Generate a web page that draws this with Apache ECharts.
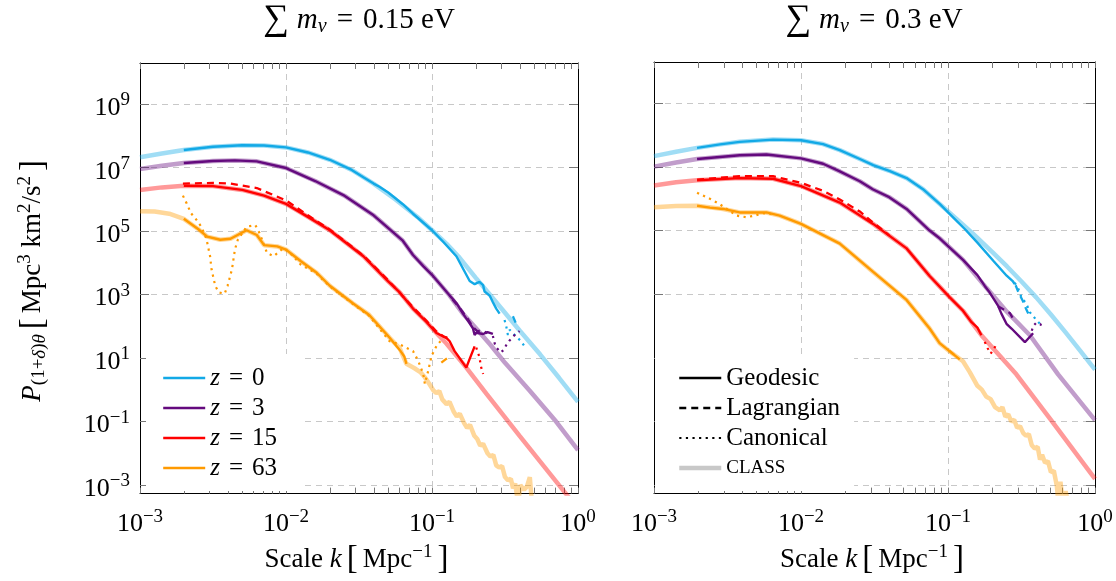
<!DOCTYPE html>
<html>
<head>
<meta charset="utf-8">
<script src="https://cdn.jsdelivr.net/npm/echarts@6/dist/echarts.min.js"></script>
<style>
  html, body { margin: 0; padding: 0; background: #fff; }
  #chart { width: 1116px; height: 581px; }
</style>
</head>
<body>
<div id="chart"></div>
<script>
// all values are log10: [log10 k, log10 P]
// ---- panel A : sum m_nu = 0.15 eV ----
const classA_z0 = [[-3,7.33],[-2.85,7.45],[-2.7,7.56],[-2.5,7.66],[-2.3,7.71],[-2.15,7.70],[-2.0,7.64],[-1.85,7.48],[-1.7,7.25],[-1.55,6.93],[-1.4,6.50],[-1.25,6.00],[-1.1,5.45],[-1.0,5.03],[-0.9,4.60],[-0.82,4.21],[-0.7,3.53],[-0.6,2.98],[-0.5,2.43],[-0.4,1.87],[-0.26,1.12],[-0.13,0.38],[0,-0.38]];
const geoA_z0 = [[-2.7,7.56],[-2.5,7.66],[-2.3,7.71],[-2.15,7.70],[-2.0,7.64],[-1.85,7.48],[-1.7,7.25],[-1.55,6.93],[-1.47,6.70],[-1.4,6.50],[-1.36,6.40],[-1.3,6.22],[-1.2,5.85],[-1.13,5.55],[-1.0,5.03],[-0.92,4.65],[-0.833,4.21],[-0.742,3.43],[-0.708,3.33],[-0.675,3.40],[-0.65,3.30],[-0.64,3.10],[-0.605,2.97],[-0.583,2.76],[-0.56,2.56],[-0.537,2.40]];
const lagA_z0 = [[-0.446,2.32],[-0.423,2.07]];
const canA_z0 = [[-0.503,2.20],[-0.491,1.99],[-0.48,1.73],[-0.468,1.89],[-0.423,1.68],[-0.389,1.53],[-0.366,1.37]];

const classA_z3 = [[-3,6.96],[-2.85,7.06],[-2.7,7.15],[-2.5,7.21],[-2.35,7.23],[-2.2,7.20],[-2.0,6.99],[-1.8,6.58],[-1.6,6.12],[-1.4,5.50],[-1.2,4.70],[-1.13,4.25],[-0.993,3.59],[-0.879,2.97],[-0.788,2.40],[-0.7,1.95],[-0.6,1.42],[-0.5,0.85],[-0.332,-0.02],[-0.15,-1.0],[0,-1.9]];
const geoA_z3 = [[-2.7,7.15],[-2.5,7.21],[-2.35,7.23],[-2.2,7.20],[-2.0,6.99],[-1.8,6.58],[-1.6,6.12],[-1.4,5.50],[-1.2,4.70],[-1.13,4.25],[-1.06,3.90],[-0.993,3.59],[-0.93,3.25],[-0.879,2.97],[-0.83,2.72],[-0.788,2.40],[-0.75,2.15],[-0.72,1.94],[-0.708,1.73],[-0.697,1.80],[-0.65,1.76],[-0.62,1.82],[-0.583,1.76]];
const lagA_z3 = [[-0.86,2.85],[-0.80,2.52],[-0.75,2.20],[-0.72,1.98],[-0.69,1.85],[-0.65,1.86],[-0.62,1.78]];
const canA_z3 = [[-0.583,1.70],[-0.57,1.45],[-0.555,1.31],[-0.53,1.18],[-0.51,1.25],[-0.49,1.42],[-0.47,1.55],[-0.44,1.70],[-0.40,1.85]];

const classA_z15 = [[-3,6.30],[-2.85,6.38],[-2.7,6.43],[-2.5,6.42],[-2.3,6.30],[-2.15,6.12],[-2.0,5.86],[-1.85,5.45],[-1.7,5.03],[-1.47,4.21],[-1.3,3.42],[-1.221,3.07],[-1.13,2.56],[-1.038,2.14],[-0.97,1.79],[-0.90,1.45],[-0.765,0.70],[-0.628,-0.12],[-0.4,-1.45],[-0.2,-2.6],[0,-3.75]];
const geoA_z15 = [[-2.7,6.43],[-2.5,6.42],[-2.3,6.30],[-2.15,6.12],[-2.0,5.86],[-1.85,5.45],[-1.7,5.03],[-1.47,4.21],[-1.3,3.42],[-1.221,3.07],[-1.13,2.56],[-1.038,2.14],[-0.97,1.79],[-0.90,1.63],[-0.879,1.53],[-0.845,1.22],[-0.765,0.70],[-0.74,1.00],[-0.708,1.37]];
const lagA_z15 = [[-2.706,6.50],[-2.5,6.52],[-2.38,6.50],[-2.2,6.36],[-2.0,5.97],[-1.85,5.50],[-1.7,5.05],[-1.47,4.23],[-1.3,3.45],[-1.13,2.60],[-1.04,2.18],[-0.97,1.84],[-0.92,1.68],[-0.88,1.62]];
const canA_z15 = [[-0.697,1.33],[-0.675,1.03],[-0.665,0.74],[-0.65,0.50]];

const classA_z63 = [[-3,5.63],[-2.9,5.62],[-2.8,5.55],[-2.7,5.39],[-2.6,5.06],[-2.54,4.83],[-2.45,4.73],[-2.38,4.76],[-2.27,5.03],[-2.2,4.88],[-2.15,4.56],[-2.06,4.52],[-2.0,4.42],[-1.9,4.06],[-1.79,3.69],[-1.7,3.28],[-1.54,2.72],[-1.43,2.36],[-1.29,1.64],[-1.22,1.30],[-1.175,0.82],[-1.12,0.68],[-1.08,0.56],[-1.05,0.40],[-1.02,0.20],[-0.99,-0.02],[-0.97,-0.10],[-0.95,-0.04],[-0.93,-0.30],[-0.90,-0.45],[-0.88,-0.38],[-0.85,-0.70],[-0.83,-0.84],[-0.81,-0.75],[-0.78,-1.05],[-0.76,-1.20],[-0.74,-1.10],[-0.71,-1.45],[-0.69,-1.55],[-0.67,-1.76],[-0.65,-1.70],[-0.62,-2.00],[-0.60,-2.10],[-0.58,-2.05],[-0.56,-2.38],[-0.54,-2.45],[-0.52,-2.40],[-0.50,-2.75],[-0.48,-2.85],[-0.46,-2.80],[-0.445,-3.10],[-0.43,-2.95],[-0.41,-3.60],[-0.395,-3.00],[-0.37,-3.15],[-0.35,-3.05],[-0.33,-2.75],[-0.315,-3.60],[-0.30,-3.50]];
const geoA_z63 = [[-2.7,5.39],[-2.6,5.06],[-2.54,4.83],[-2.45,4.73],[-2.38,4.76],[-2.27,5.03],[-2.2,4.88],[-2.15,4.56],[-2.06,4.52],[-2.0,4.42],[-1.9,4.06],[-1.79,3.69],[-1.7,3.28],[-1.54,2.72],[-1.43,2.36],[-1.29,1.64],[-1.22,1.25],[-1.19,1.05],[-1.175,0.82]];
const lagA_z63 = [[-0.936,0.86],[-0.879,1.06]];
const canA_z63 = [[-2.706,6.12],[-2.68,5.87],[-2.65,5.56],[-2.62,5.40],[-2.58,5.14],[-2.545,4.76],[-2.52,4.21],[-2.51,3.80],[-2.485,3.28],[-2.46,3.07],[-2.42,3.03],[-2.40,3.28],[-2.37,3.80],[-2.35,4.42],[-2.33,4.73],[-2.27,5.14],[-2.21,5.19],[-2.18,4.93],[-2.13,4.31],[-2.085,4.21],[-2.017,4.47],[-1.97,4.31],[-1.90,3.95],[-1.79,3.66],[-1.70,3.26],[-1.54,2.70],[-1.43,2.33],[-1.29,1.53],[-1.22,1.43],[-1.13,1.22],[-1.094,0.91],[-1.06,0.50],[-1.049,0.19],[-1.026,0.60],[-1.003,1.07],[-0.969,1.38],[-0.923,1.64]];

// ---- panel B : sum m_nu = 0.3 eV ----
const classB_z0 = [[-3,7.34],[-2.85,7.48],[-2.707,7.60],[-2.55,7.71],[-2.417,7.79],[-2.19,7.86],[-2.0,7.84],[-1.85,7.72],[-1.736,7.53],[-1.6,7.25],[-1.509,7.06],[-1.4,6.88],[-1.282,6.65],[-1.17,6.30],[-1.055,5.83],[-0.94,5.36],[-0.83,4.90],[-0.7,4.33],[-0.6,3.88],[-0.5,3.40],[-0.4,2.90],[-0.3,2.36],[-0.2,1.80],[-0.1,1.22],[0,0.63]];
const geoB_z0 = [[-2.707,7.60],[-2.55,7.71],[-2.417,7.79],[-2.19,7.86],[-2.0,7.84],[-1.85,7.72],[-1.736,7.53],[-1.6,7.25],[-1.509,7.06],[-1.4,6.88],[-1.282,6.65],[-1.17,6.30],[-1.055,5.83],[-0.94,5.30],[-0.886,5.05],[-0.8,4.62],[-0.692,4.05],[-0.601,3.58],[-0.558,3.40],[-0.546,3.32]];
const lagB_z0 = [[-0.54,3.28],[-0.52,3.05],[-0.49,2.78],[-0.47,2.55],[-0.45,2.35]];
const canB_z0 = [[-0.546,3.36],[-0.524,3.20],[-0.50,2.90],[-0.466,2.69],[-0.443,2.43],[-0.397,2.18],[-0.374,2.07],[-0.367,2.18]];

const classB_z3 = [[-3,7.01],[-2.85,7.14],[-2.707,7.25],[-2.417,7.37],[-2.235,7.39],[-2.0,7.27],[-1.85,7.10],[-1.736,6.86],[-1.6,6.55],[-1.509,6.29],[-1.4,6.05],[-1.282,5.68],[-1.125,5.0],[-1.055,4.75],[-0.898,4.08],[-0.739,3.20],[-0.6,2.45],[-0.443,1.71],[-0.251,0.48],[0,-0.96]];
const geoB_z3 = [[-2.707,7.25],[-2.417,7.37],[-2.235,7.39],[-2.0,7.27],[-1.85,7.10],[-1.736,6.86],[-1.6,6.55],[-1.509,6.29],[-1.4,6.05],[-1.282,5.68],[-1.125,5.0],[-1.055,4.75],[-0.898,4.08],[-0.80,3.60],[-0.75,3.26],[-0.716,3.05],[-0.66,2.64],[-0.636,2.38],[-0.602,2.07],[-0.568,1.92],[-0.477,1.49],[-0.421,1.77]];
const lagB_z3 = [[-0.66,2.62],[-0.58,2.41],[-0.546,2.14]];
const canB_z3 = [[-0.43,1.85],[-0.42,2.0],[-0.40,2.10],[-0.37,2.05],[-0.36,1.92]];

const classB_z15 = [[-3,6.42],[-2.85,6.52],[-2.707,6.58],[-2.417,6.65],[-2.19,6.63],[-2.0,6.40],[-1.736,5.88],[-1.509,5.21],[-1.282,4.44],[-1.125,3.57],[-0.988,2.90],[-0.898,2.48],[-0.84,2.12],[-0.773,1.71],[-0.535,0.48],[-0.3,-0.95],[0,-2.81]];
const geoB_z15 = [[-2.707,6.58],[-2.417,6.65],[-2.19,6.63],[-2.0,6.40],[-1.736,5.88],[-1.509,5.21],[-1.282,4.44],[-1.125,3.57],[-0.988,2.90],[-0.898,2.48],[-0.84,2.12],[-0.80,1.95],[-0.773,1.71]];
const lagB_z15 = [[-2.707,6.60],[-2.417,6.71],[-2.19,6.71],[-2.0,6.50],[-1.85,6.25],[-1.736,5.98],[-1.6,5.60],[-1.509,5.25],[-1.4,4.85]];
const canB_z15 = [[-0.75,1.50],[-0.73,1.30],[-0.71,1.13],[-0.70,1.19],[-0.665,1.45]];

const classB_z63 = [[-3,5.73],[-2.85,5.77],[-2.707,5.78],[-2.53,5.68],[-2.417,5.57],[-2.235,5.57],[-2.145,5.47],[-2.0,5.21],[-1.736,4.59],[-1.509,3.70],[-1.282,2.82],[-1.125,1.92],[-1.057,1.46],[-0.988,1.20],[-0.898,0.89],[-0.852,0.55],[-0.80,0.12],[-0.77,0.00],[-0.74,-0.22],[-0.71,-0.30],[-0.68,-0.55],[-0.647,-0.65],[-0.63,-0.55],[-0.61,-0.85],[-0.59,-0.78],[-0.57,-1.00],[-0.55,-0.95],[-0.53,-1.20],[-0.51,-1.15],[-0.488,-1.37],[-0.47,-1.45],[-0.45,-1.40],[-0.43,-1.75],[-0.41,-1.85],[-0.39,-1.80],[-0.374,-2.20],[-0.36,-2.05],[-0.34,-2.30],[-0.32,-2.25],[-0.30,-2.60],[-0.28,-2.55],[-0.26,-3.02],[-0.25,-3.50],[-0.235,-2.90],[-0.22,-3.50],[-0.20,-3.20],[-0.18,-3.60]];
const geoB_z63 = [[-2.707,5.78],[-2.62,5.72],[-2.53,5.68],[-2.417,5.57],[-2.235,5.57],[-2.145,5.47],[-2.0,5.21],[-1.736,4.59],[-1.509,3.70],[-1.282,2.82],[-1.125,1.92],[-1.057,1.46],[-0.988,1.20],[-0.92,0.95]];
const lagB_z63 = [[-0.99,1.22],[-0.96,1.10]];
const canB_z63 = [[-2.707,6.19],[-2.62,6.00],[-2.553,5.83],[-2.439,5.47],[-2.371,5.42],[-2.315,5.47],[-2.258,5.55],[-2.2,5.52]];

const zLabels = ['z = 0', 'z = 3', 'z = 15', 'z = 63'];
const methodLabels = ['Geodesic', 'Lagrangian', 'Canonical', 'CLASS'];
const xMajor = [-3, -2, -1, 0];
const yMajor = [-3, -1, 1, 3, 5, 7, 9];

const FONT = 'Liberation Serif';
const COLORS = ['#12A9E6', '#640A7E', '#FF0000', '#FF9A00'];
const Y_MIN = -3.27, Y_MAX = 10.30;

// log-spaced minor ticks 2..9 within every decade
const xTicks = [];
xMajor.forEach((d, i) => {
  xTicks.push(d);
  if (i < xMajor.length - 1) for (let m = 2; m <= 9; m++) xTicks.push(d + Math.log10(m));
});

const rich = {
  t: { fontFamily: FONT, fontSize: 25, color: '#000' },
  i: { fontFamily: FONT, fontSize: 25, fontStyle: 'italic', color: '#000' },
  e: { fontFamily: FONT, fontSize: 25, color: '#000', padding: [0, 9] },
  // axis names
  n: { fontFamily: FONT, fontSize: 27, color: '#000' },
  ni: { fontFamily: FONT, fontSize: 27, fontStyle: 'italic', color: '#000' },
  sub: { fontFamily: FONT, fontSize: 19, color: '#000', padding: [13, 0, 0, 0] },
  subi: { fontFamily: FONT, fontSize: 19, fontStyle: 'italic', color: '#000', padding: [13, 0, 0, 0] },
  sup: { fontFamily: FONT, fontSize: 19, color: '#000', padding: [0, 0, 15, 0] },
  br: { fontFamily: FONT, fontSize: 33, color: '#000', padding: [0, 5] },
  // titles
  sum: { fontFamily: FONT, fontSize: 36, color: '#000', padding: [0, 8, 0, 0] },
  tt: { fontFamily: FONT, fontSize: 29, color: '#000' },
  it: { fontFamily: FONT, fontSize: 29, fontStyle: 'italic', color: '#000' },
  et: { fontFamily: FONT, fontSize: 29, color: '#000', padding: [0, 10] },
  subt: { fontFamily: FONT, fontSize: 20, fontStyle: 'italic', color: '#000', padding: [13, 0, 0, 0] },
  sc: { fontFamily: FONT, fontSize: 19, color: '#000' }
};

const tickRich = {
  b: { fontFamily: FONT, fontSize: 26, color: '#000', padding: [8, 0, 0, 0] },
  s: { fontFamily: FONT, fontSize: 19, color: '#000', padding: [0, 0, 8, 0] }
};

function powLabel(v) {
  const e = (v < 0 ? '\u2212' : '') + Math.abs(v);
  return '{b|10}{s|' + e + '}';
}

const grids = [
  { left: 140, top: 63, width: 438, height: 439 },
  { left: 654, top: 62, width: 441, height: 440 }
];

const xAxes = [];
const yAxes = [];
grids.forEach((g, gi) => {
  xAxes.push({
    gridIndex: gi, type: 'value', min: -3, max: 0, position: 'bottom',
    axisLine: { onZero: false, lineStyle: { color: '#000', width: 1 } },
    axisTick: { inside: true, length: 6, customValues: xTicks, lineStyle: { color: '#777' } },
    axisLabel: { customValues: xMajor, formatter: powLabel, rich: tickRich, margin: 10, showMinLabel: true, showMaxLabel: true, fontFamily: FONT },
    splitLine: { show: false },
    name: '{n|Scale }{ni|k}{br|[}{n|Mpc}{sup|\u22121}{br|]}',
    nameLocation: 'middle', nameGap: 44,
    nameTextStyle: { fontFamily: FONT, rich: rich }
  });
  xAxes.push({
    gridIndex: gi, type: 'value', min: -3, max: 0, position: 'bottom',
    axisLine: { show: false },
    axisTick: { show: false, customValues: [-2, -1] },
    axisLabel: { show: false },
    splitLine: { show: true, lineStyle: { color: '#c8c8c8', width: 1, type: [6, 5] } }
  });
  xAxes.push({
    gridIndex: gi, type: 'value', min: -3, max: 0, position: 'top',
    axisLine: { onZero: false, lineStyle: { color: '#000', width: 1 } },
    axisTick: { inside: true, length: 6, customValues: xTicks, lineStyle: { color: '#777' } },
    axisLabel: { show: false },
    splitLine: { show: false }
  });
  yAxes.push({
    gridIndex: gi, type: 'value', min: Y_MIN, max: Y_MAX, position: 'left',
    axisLine: { onZero: false, lineStyle: { color: '#000', width: 1 } },
    axisTick: { inside: true, length: 9, customValues: yMajor, lineStyle: { color: '#777' } },
    axisLabel: { show: gi === 0, customValues: yMajor, formatter: powLabel, rich: tickRich, margin: 10, fontFamily: FONT },
    splitLine: { show: true, lineStyle: { color: '#c8c8c8', width: 1, type: [6, 5] } },
    name: gi === 0 ? '{ni|P}{sub|(1+}{subi|\u03b4}{sub|)}{subi|\u03b8}{br|[}{n|Mpc}{sup|3}{n| km}{sup|2}{n|/s}{sup|2}{br|]}' : '',
    nameLocation: 'middle', nameGap: 90, nameRotate: 90,
    nameTextStyle: { fontFamily: FONT, rich: rich }
  });
  yAxes.push({
    gridIndex: gi, type: 'value', min: Y_MIN, max: Y_MAX, position: 'right',
    axisLine: { onZero: false, lineStyle: { color: '#000', width: 1 } },
    axisTick: { inside: true, length: 9, customValues: yMajor, lineStyle: { color: '#777' } },
    axisLabel: { show: false },
    splitLine: { show: false }
  });
});

function styleFor(kind, color) {
  if (kind === 'cls') return { color: color, width: 4.5, opacity: 0.4 };
  if (kind === 'lag') return { color: color, width: 2.3, type: [7, 5] };
  if (kind === 'can') return { color: color, width: 2.2, type: [2.2, 4.4] };
  return { color: color, width: 2.4 };
}

const panels = [
  { cls: [classA_z0, classA_z3, classA_z15, classA_z63], can: [canA_z0, canA_z3, canA_z15, canA_z63],
    lag: [lagA_z0, lagA_z3, lagA_z15, lagA_z63], geo: [geoA_z0, geoA_z3, geoA_z15, geoA_z63] },
  { cls: [classB_z0, classB_z3, classB_z15, classB_z63], can: [canB_z0, canB_z3, canB_z15, canB_z63],
    lag: [lagB_z0, lagB_z3, lagB_z15, lagB_z63], geo: [geoB_z0, geoB_z3, geoB_z15, geoB_z63] }
];

const series = [];
panels.forEach((p, pi) => {
  ['cls', 'can', 'lag', 'geo'].forEach(kind => {
    p[kind].forEach((d, zi) => {
      series.push({
        name: (pi === 0 && kind === 'geo') ? zLabels[zi] : kind + ' ' + pi + ' ' + zi,
        type: 'line', xAxisIndex: pi * 3, yAxisIndex: pi * 2,
        data: d, symbol: 'none', silent: true, animation: false,
        itemStyle: { color: COLORS[zi] },
        lineStyle: styleFor(kind, COLORS[zi]),
        z: kind === 'cls' ? 1 : 2
      });
    });
  });
});
// legend-only entries for the line styles
const methodStyles = [
  { color: '#000', width: 2.4 },
  { color: '#000', width: 2.3, type: [7, 5] },
  { color: '#000', width: 2.2, type: [2.2, 4.4] },
  { color: '#c8c8c8', width: 4.5 }
];
methodLabels.forEach((m, i) => {
  series.push({
    name: m, type: 'line', xAxisIndex: 3, yAxisIndex: 2, data: [], symbol: 'none',
    itemStyle: { color: methodStyles[i].color }, lineStyle: methodStyles[i]
  });
});

function legendText(name) {
  if (name.charAt(0) === 'z') return '{i|z}{e|=}{t|' + name.split('= ')[1] + '}';
  if (name === 'CLASS') return '{sc|CLASS}';
  return '{t|' + name + '}';
}

const legendBase = {
  orient: 'vertical', itemWidth: 42, itemHeight: 2, itemGap: 4,
  backgroundColor: '#fff', selectedMode: false,
  itemStyle: { opacity: 0 },
  formatter: legendText,
  textStyle: { fontFamily: FONT, fontSize: 25, color: '#000', lineHeight: 26, rich: rich }
};

const option = {
  backgroundColor: '#fff',
  animation: false,
  textStyle: { fontFamily: FONT },
  grid: grids,
  xAxis: xAxes,
  yAxis: yAxes,
  legend: [
    Object.assign({}, legendBase, {
      data: zLabels.map((z, i) => ({ name: z, lineStyle: { color: COLORS[i], width: 2.4 } })),
      left: 146, top: 354, padding: [11, 24, 10, 16]
    }),
    Object.assign({}, legendBase, {
      data: methodLabels.map((m, i) => ({ name: m, lineStyle: methodStyles[i] })),
      left: 655, top: 354, padding: [11, 14, 10, 22]
    })
  ],
  graphic: [
    { type: 'text', x: 359, y: 20, style: { text: '{sum|\u2211}{it|m}{subt|\u03bd}{et|=}{tt|0.15 eV}', rich: rich, align: 'center', verticalAlign: 'middle', fontFamily: FONT } },
    { type: 'text', x: 874, y: 20, style: { text: '{sum|\u2211}{it|m}{subt|\u03bd}{et|=}{tt|0.3 eV}', rich: rich, align: 'center', verticalAlign: 'middle', fontFamily: FONT } }
  ],
  series: series
};

const chart = echarts.init(document.getElementById('chart'));
chart.setOption(option);
</script>
</body>
</html>
